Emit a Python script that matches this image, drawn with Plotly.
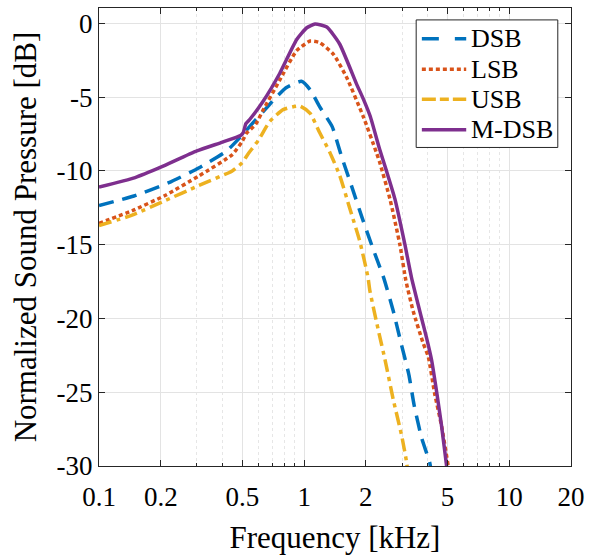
import plotly.graph_objects as go

# frequency [kHz] / normalized sound pressure [dB]
f_dsb = [0.1, 0.148, 0.219, 0.306, 0.419, 0.505, 0.55, 0.63, 0.72, 0.82, 0.97, 1.07, 1.19,
         1.37, 1.52, 1.71, 1.92, 2.17, 2.45, 2.72, 2.96, 3.24, 3.44, 3.74, 4.1, 4.17]
db_dsb = [-12.35, -11.7, -10.8, -9.8, -8.65, -7.5, -6.9, -6.0, -5.1, -4.35, -3.93, -4.5, -5.65,
          -7.0, -9.0, -11.1, -13.2, -15.3, -17.3, -19.5, -21.6, -23.8, -25.9, -28.1, -29.8, -30.5]

f_lsb = [0.1, 0.145, 0.211, 0.306, 0.446, 0.499, 0.524, 0.58, 0.63, 0.76, 0.92, 1.07, 1.19,
         1.39, 1.61, 1.94, 2.25, 2.34, 2.62, 2.93, 3.13, 3.4, 3.81, 4.03, 4.33, 4.68, 5.04, 5.1]
db_lsb = [-13.55, -12.7, -11.65, -10.35, -8.9, -8.0, -7.45, -6.85, -5.9, -3.85, -1.85, -1.2, -1.3,
          -2.1, -3.65, -6.3, -8.75, -9.45, -11.9, -15.0, -17.4, -19.5, -21.7, -22.6, -25.1, -27.3, -30.0, -30.5]

f_usb = [0.1, 0.145, 0.211, 0.306, 0.446, 0.499, 0.53, 0.6, 0.68, 0.79, 0.95, 1.07, 1.19,
         1.33, 1.49, 1.67, 1.87, 2.05, 2.09, 2.3, 2.48, 2.72, 2.99, 3.16, 3.2]
db_usb = [-13.7, -13.0, -12.0, -11.0, -10.0, -9.45, -8.9, -7.9, -6.65, -5.85, -5.6, -6.1, -7.4,
          -8.7, -10.3, -12.55, -14.8, -17.25, -18.1, -20.8, -22.8, -25.5, -27.95, -29.75, -30.5]

f_mdsb = [0.1, 0.15, 0.2, 0.3, 0.4, 0.49, 0.505, 0.52, 0.544, 0.63, 0.76, 0.92, 1.03, 1.13, 1.29,
          1.49, 1.8, 1.94, 2.1, 2.33, 2.52, 2.77, 3.1, 3.34, 3.74, 3.95, 4.18, 4.44, 4.68, 4.95, 5.0]
db_mdsb = [-11.1, -10.45, -9.75, -8.65, -8.05, -7.6, -7.4, -6.8, -6.5, -5.3, -3.4, -1.1, -0.3, -0.05, -0.25,
           -1.4, -4.1, -5.1, -6.3, -8.5, -10.0, -11.9, -15.0, -17.25, -20.0, -21.3, -22.8, -25.1, -27.3, -30.0, -30.5]

series_names = ["DSB", "LSB", "USB", "M-DSB"]
series_x = [f_dsb, f_lsb, f_usb, f_mdsb]
series_y = [db_dsb, db_lsb, db_usb, db_mdsb]
colors = ["#0072BD", "#D95319", "#EDB120", "#7E2F8E"]
dashes = ["15px,9px", "4px,3px", "13px,5px,4px,5px", "solid"]
legend_dashes = ["17px,16px", "4px,3px", "14px,4px,9px,4px", "solid"]

x_ticks = [0.1, 0.2, 0.5, 1, 2, 5, 10, 20]
x_minor = [0.3, 0.4, 0.6, 0.7, 0.8, 0.9, 3, 4, 6, 7, 8, 9]
y_ticks = [0, -5, -10, -15, -20, -25, -30]

font = "Liberation Serif"
axcol = "#262626"

fig = go.Figure()
for name, xs, ys, c, d in zip(series_names, series_x, series_y, colors, dashes):
    fig.add_trace(go.Scatter(x=xs, y=ys, name=name, mode="lines", showlegend=False,
                             line=dict(color=c, width=3.5, dash=d, shape="spline", smoothing=0.5)))

# legend box drawn by hand (MATLAB-like compact rows)
fig.add_shape(type="rect", xref="paper", yref="paper", x0=0.672, x1=0.972, y0=0.6955, y1=0.974,
              line=dict(color=axcol, width=1), fillcolor="white", layer="above")
row_y = [0.933, 0.866, 0.801, 0.734]
for name, c, d, ry in zip(series_names, colors, legend_dashes, row_y):
    fig.add_shape(type="line", xref="paper", yref="paper", x0=0.684, x1=0.778, y0=ry, y1=ry,
                  line=dict(color=c, width=3.5, dash=d), layer="above")
    fig.add_annotation(text=name, xref="paper", yref="paper", x=0.783, y=ry,
                       xanchor="left", yanchor="middle", showarrow=False,
                       font=dict(size=26, color="black"))

fig.update_layout(
    width=596, height=555,
    margin=dict(l=99, r=25, t=7, b=85),
    plot_bgcolor="white", paper_bgcolor="white",
    font=dict(family=font, size=27, color="black"),
    showlegend=False,
)
fig.update_xaxes(
    type="log", range=[-1, 1.30103],
    tickvals=x_ticks, ticktext=[str(v) for v in x_ticks],
    ticks="inside", ticklen=6, tickcolor=axcol, ticklabelstandoff=7,
    showline=True, linecolor=axcol, linewidth=1, mirror="ticks",
    showgrid=True, gridcolor="#e3e3e3", gridwidth=1,
    minor=dict(tickvals=x_minor, showgrid=True, gridcolor="#e6e6e6", griddash="dot",
               ticks="inside", ticklen=3, tickcolor=axcol),
    zeroline=False,
    title=dict(text="Frequency [kHz]", font=dict(size=31), standoff=14),
)
fig.update_yaxes(
    range=[-30, 1.04],
    tickvals=y_ticks, ticktext=[str(v) for v in y_ticks],
    ticks="inside", ticklen=6, tickcolor=axcol,
    showline=True, linecolor=axcol, linewidth=1, mirror="ticks",
    showgrid=True, gridcolor="#e3e3e3", gridwidth=1,
    zeroline=False,
    title=dict(text="Normalized Sound Pressure [dB]", font=dict(size=31), standoff=10),
)

fig.write_html("out.html", config={"displayModeBar": False},
               post_script="document.body.style.margin='0px';")
